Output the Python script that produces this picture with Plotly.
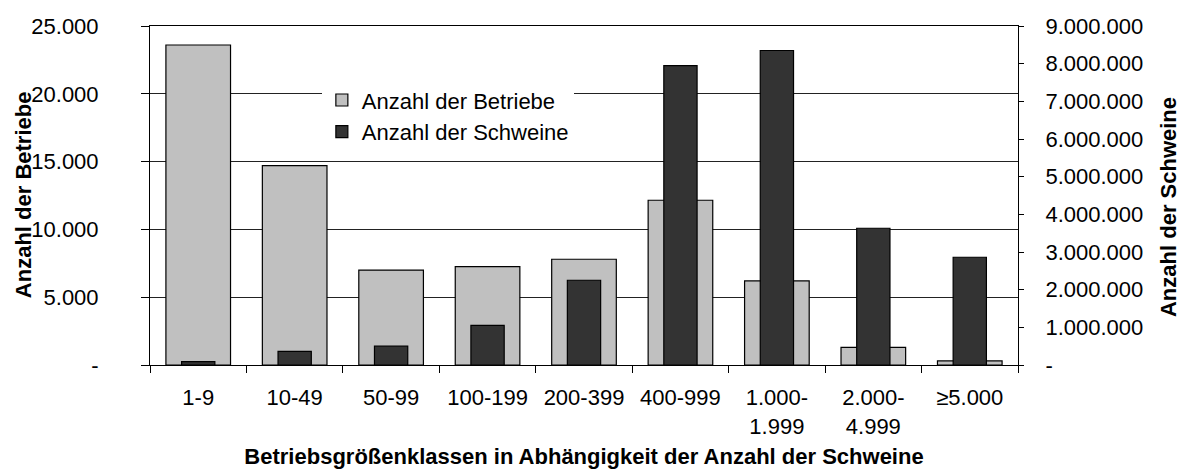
import plotly.graph_objects as go

# Betriebsgrößenklassen (Anzahl der Schweine je Betrieb)
klassen = ["1-9", "10-49", "50-99", "100-199", "200-399", "400-999",
           "1.000-<br>1.999", "2.000-<br>4.999", "≥5.000"]
betriebe = [23600, 14700, 7000, 7250, 7800, 12150, 6200, 1300, 300]
schweine = [90000, 360000, 500000, 1050000, 2250000, 7950000, 8350000, 3630000, 2860000]

left_ticks = [0, 5000, 10000, 15000, 20000, 25000]
left_labels = ["-", "5.000", "10.000", "15.000", "20.000", "25.000"]
right_ticks = [0, 1e6, 2e6, 3e6, 4e6, 5e6, 6e6, 7e6, 8e6, 9e6]
right_labels = ["-", "1.000.000", "2.000.000", "3.000.000", "4.000.000", "5.000.000",
                "6.000.000", "7.000.000", "8.000.000", "9.000.000"]

font = "Liberation Sans, Arial, sans-serif"
fs = 22

fig = go.Figure()

# Anzahl der Betriebe (linke Achse)
fig.add_trace(go.Bar(
    x=klassen, y=betriebe, name="Anzahl der Betriebe",
    marker=dict(color="#c0c0c0", line=dict(color="black", width=1.2)),
    width=0.67, legendgroup="a", yaxis="y"
))

# Anzahl der Schweine (rechte Achse)
fig.add_trace(go.Bar(
    x=klassen, y=schweine, name="Anzahl der Schweine",
    marker=dict(color="#333333", line=dict(color="black", width=1.2)),
    width=0.345, legendgroup="b", yaxis="y2"
))

fig.update_layout(
    width=1184, height=470,
    margin=dict(l=150, r=166, t=26, b=105),
    paper_bgcolor="white", plot_bgcolor="white",
    font=dict(family=font, size=fs, color="black"),
    barmode="overlay",
    showlegend=True,
    legend=dict(
        x=0.198, y=0.843, xanchor="left", yanchor="top",
        bgcolor="white", font=dict(size=fs),
        traceorder="normal", tracegroupgap=2,
        itemclick=False
    ),
    xaxis=dict(
        type="category", showline=True, linecolor="black", linewidth=1,
        mirror=True, automargin=False,
        ticks="outside", ticklen=7, tickcolor="black", tickson="boundaries",
        showgrid=False, tickfont=dict(size=fs), ticklabelstandoff=13,
        title=dict(text="<b>Betriebsgrößenklassen in Abhängigkeit der Anzahl der Schweine</b>",
                   font=dict(size=fs), standoff=10),
    ),
    yaxis=dict(
        range=[0, 25000], tickvals=left_ticks, ticktext=left_labels,
        showline=True, linecolor="black", linewidth=1, automargin=False,
        ticks="outside", ticklen=8, tickcolor="black", ticklabelstandoff=38,
        showgrid=True, gridcolor="#222222", gridwidth=1, zeroline=False,
        tickfont=dict(size=fs),
    ),
    yaxis2=dict(
        range=[0, 9e6], tickvals=right_ticks, ticktext=right_labels,
        overlaying="y", side="right",
        showline=True, linecolor="black", linewidth=1, automargin=False,
        ticks="outside", ticklen=5, tickcolor="black", ticklabelstandoff=17,
        showgrid=False, zeroline=False, tickfont=dict(size=fs),
    ),
)

# Achsentitel der beiden y-Achsen
fig.add_annotation(text="<b>Anzahl der Betriebe</b>", textangle=-90,
                   xref="paper", yref="paper", x=-0.1463, y=0.501,
                   xanchor="center", yanchor="middle", showarrow=False,
                   font=dict(size=fs))
fig.add_annotation(text="<b>Anzahl der Schweine</b>", textangle=-90,
                   xref="paper", yref="paper", x=1.1728, y=0.466,
                   xanchor="center", yanchor="middle", showarrow=False,
                   font=dict(size=fs))

fig.write_html("out.html", config={"displayModeBar": False},
               post_script="document.body.style.margin='0px';")
